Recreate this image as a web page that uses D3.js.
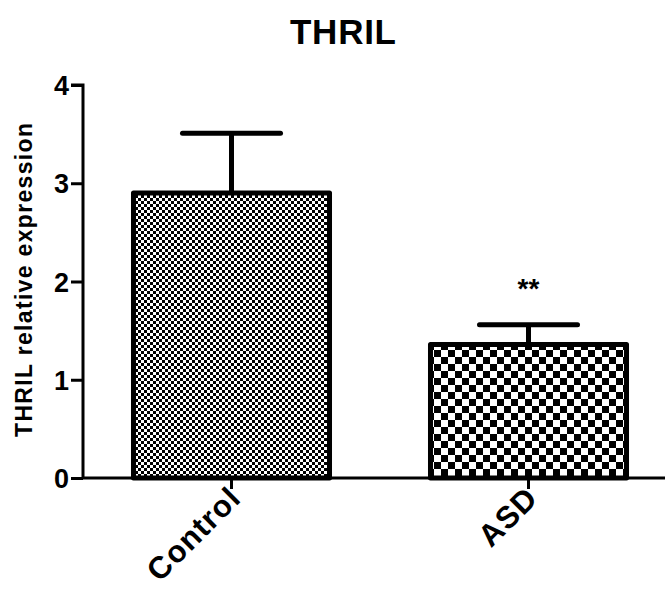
<!DOCTYPE html>
<html>
<head>
<meta charset="utf-8">
<script src="https://cdn.jsdelivr.net/npm/d3@7"></script>
<style>
  html, body { margin: 0; padding: 0; background: #fff; }
  svg { display: block; }
  text { font-family: "Liberation Sans", Arial, sans-serif; font-weight: bold; fill: #000; }
</style>
</head>
<body>
<script>
const categories = ["Control", "ASD"];
const means = [2.90, 1.36];
const errors = [0.61, 0.20];
const significance = ["", "**"];
const yTicks = [0, 1, 2, 3, 4];
const title = "THRIL";
const yLabel = "THRIL relative expression";

const W = 665, H = 590;
const svg = d3.select("body").append("svg").attr("width", W).attr("height", H);

const defs = svg.append("defs");
function checker(id, cell) {
  const p = defs.append("pattern").attr("id", id)
    .attr("patternUnits", "userSpaceOnUse")
    .attr("width", cell * 2).attr("height", cell * 2);
  p.append("rect").attr("width", cell * 2).attr("height", cell * 2).attr("fill", "#fff");
  p.append("rect").attr("x", 0).attr("y", 0).attr("width", cell).attr("height", cell).attr("fill", "#000");
  p.append("rect").attr("x", cell).attr("y", cell).attr("width", cell).attr("height", cell).attr("fill", "#000");
}
checker("pat0", 3);
checker("pat1", 7);

const x = d3.scaleBand().domain(categories).range([83, 677]).paddingInner(0).paddingOuter(0);
const y = d3.scaleLinear().domain([0, 4]).range([478, 85]);

const barW = x.bandwidth() * 0.66;
const capW = barW * 0.5;

const g = svg.append("g");
categories.forEach((c, i) => {
  const cx = x(c) + x.bandwidth() / 2;
  g.append("line")
    .attr("x1", cx).attr("x2", cx)
    .attr("y1", y(means[i])).attr("y2", y(means[i] + errors[i]))
    .attr("stroke", "#000").attr("stroke-width", 5);
  g.append("line")
    .attr("x1", cx - capW / 2).attr("x2", cx + capW / 2)
    .attr("y1", y(means[i] + errors[i])).attr("y2", y(means[i] + errors[i]))
    .attr("stroke", "#000").attr("stroke-width", 5).attr("stroke-linecap", "round");
  g.append("rect")
    .attr("x", cx - barW / 2).attr("y", y(means[i]))
    .attr("width", barW).attr("height", y(0) - y(means[i]))
    .attr("fill", `url(#pat${i})`)
    .attr("stroke", "#000").attr("stroke-width", 5).attr("stroke-linejoin", "round");
  if (significance[i]) {
    g.append("text")
      .attr("x", cx).attr("y", 298)
      .attr("text-anchor", "middle")
      .attr("font-size", 28)
      .text(significance[i]);
  }
});

// y axis
const yAxis = d3.axisLeft(y).tickValues(yTicks).tickFormat(d3.format("d")).tickSize(12).tickPadding(2);
const ya = svg.append("g").attr("transform", "translate(83,0)").call(yAxis);
ya.select(".domain").attr("stroke-width", 3).attr("d", `M-12,${y(4)}H0V${y(0)}`);
ya.selectAll(".tick line").attr("stroke-width", 3);
ya.selectAll(".tick text").attr("font-size", 27).attr("font-family", '"Liberation Sans", Arial, sans-serif').attr("font-weight", "bold").attr("dy", "0.36em");

// x axis
const xAxis = d3.axisBottom(x).tickSize(11).tickFormat("");
const xa = svg.append("g").attr("transform", `translate(0,${y(0)})`).call(xAxis);
xa.select(".domain").attr("stroke-width", 3).attr("d", `M83,0H665`);
xa.selectAll(".tick line").attr("stroke-width", 3);

// x labels
categories.forEach(c => {
  const cx = x(c) + x.bandwidth() / 2;
  svg.append("text")
    .attr("transform", `translate(${cx + 11},${500}) rotate(-45)`)
    .attr("text-anchor", "end")
    .attr("font-size", 31)
    .attr("letter-spacing", 1)
    .text(c);
});

// title
svg.append("text")
  .attr("x", 343).attr("y", 44)
  .attr("text-anchor", "middle")
  .attr("font-size", 35)
  .attr("textLength", 106)
  .attr("lengthAdjust", "spacing")
  .text(title);

// y label
svg.append("text")
  .attr("transform", "translate(32,280) rotate(-90)")
  .attr("text-anchor", "middle")
  .attr("font-size", 23)
  .attr("textLength", 314)
  .attr("lengthAdjust", "spacing")
  .text(yLabel);
</script>
</body>
</html>
